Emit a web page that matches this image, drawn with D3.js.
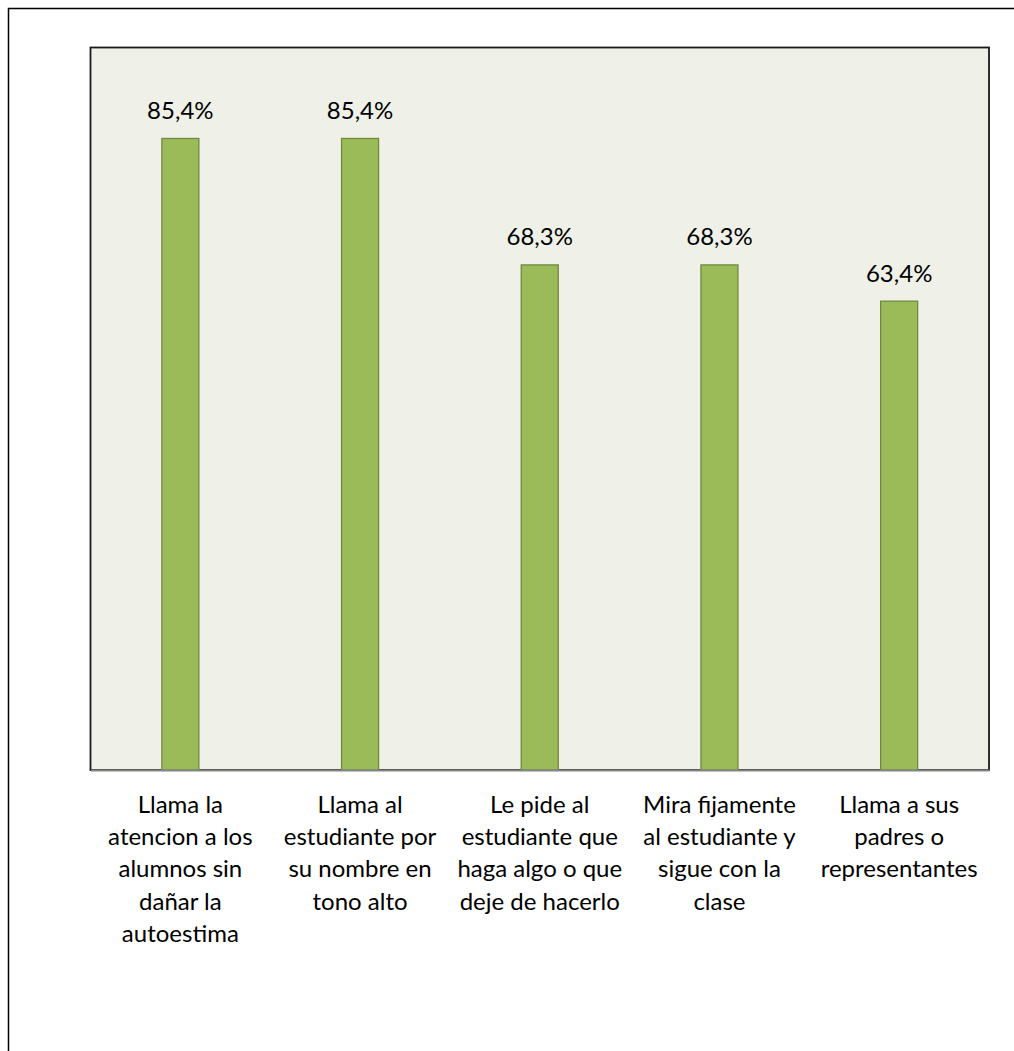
<!DOCTYPE html>
<html>
<head>
<meta charset="utf-8">
<script src="https://cdn.jsdelivr.net/npm/d3@7/dist/d3.min.js"></script>
<style>
  html, body { margin: 0; padding: 0; background: #ffffff; }
  svg { display: block; }
  text { font-family: Lato, "Open Sans", sans-serif; fill: #000; }
</style>
</head>
<body>
<svg id="chart" width="1014" height="1051"></svg>
<script>
// Share of teachers using each strategy (percent)
const categories = [
  ["Llama la", "atencion a los", "alumnos sin", "dañar la", "autoestima"],
  ["Llama al", "estudiante por", "su nombre en", "tono alto"],
  ["Le pide al", "estudiante que", "haga algo o que", "deje de hacerlo"],
  ["Mira fijamente", "al estudiante y", "sigue con la", "clase"],
  ["Llama a sus", "padres o", "representantes"]
];
const values = [85.4, 85.4, 68.3, 68.3, 63.4];
const valueLabels = ["85,4%", "85,4%", "68,3%", "68,3%", "63,4%"];
const yMax = 97.7;

const svg = d3.select("#chart");

// Outer frame (only the left and top edges fall inside the canvas)
svg.append("path")
  .attr("d", "M8.5,1051 L8.5,8.5 L1014,8.5")
  .attr("fill", "none").attr("stroke", "#000").attr("stroke-width", 1.5);

const plot = { left: 90.5, top: 47.5, right: 989, bottom: 770 };

const x = d3.scaleBand()
  .domain(d3.range(values.length))
  .range([plot.left, plot.right])
  .paddingInner(0.794).paddingOuter(0.397);

const y = d3.scaleLinear().domain([0, yMax]).range([plot.bottom, plot.top]);

// Plot background and frame
svg.append("rect")
  .attr("x", plot.left).attr("y", plot.top)
  .attr("width", plot.right - plot.left).attr("height", plot.bottom - plot.top)
  .attr("fill", "#eff1e9").attr("stroke", "#1a1a1a").attr("stroke-width", 1.8);

// Bars
svg.append("g").selectAll("rect").data(values).join("rect")
  .attr("x", (d, i) => x(i))
  .attr("y", d => y(d))
  .attr("width", x.bandwidth())
  .attr("height", d => y(0) - y(d))
  .attr("fill", "#9bbb59")
  .attr("stroke", "#71893f").attr("stroke-width", 1.3);

// Category axis line
const xAxis = d3.axisBottom(x).tickSize(0).tickFormat("");
const gx = svg.append("g").attr("transform", `translate(0,${plot.bottom})`).call(xAxis);
gx.select(".domain").attr("stroke", "#868686").attr("stroke-width", 2);

// Value labels
svg.append("g").selectAll("text").data(values).join("text")
  .attr("x", (d, i) => x(i) + x.bandwidth() / 2)
  .attr("y", d => y(d) - 19.5)
  .attr("text-anchor", "middle")
  .style("font-size", "24px")
  .text((d, i) => valueLabels[i]);

// Multi-line category labels
const lab = svg.append("g").selectAll("text").data(categories).join("text")
  .attr("text-anchor", "middle")
  .style("font-size", "24px")
  .attr("transform", (d, i) => `translate(${x(i) + x.bandwidth() / 2},812.7)`);
lab.selectAll("tspan").data(d => d).join("tspan")
  .attr("x", 0)
  .attr("y", (d, j) => j * 32.3)
  .text(d => d);
</script>
</body>
</html>
